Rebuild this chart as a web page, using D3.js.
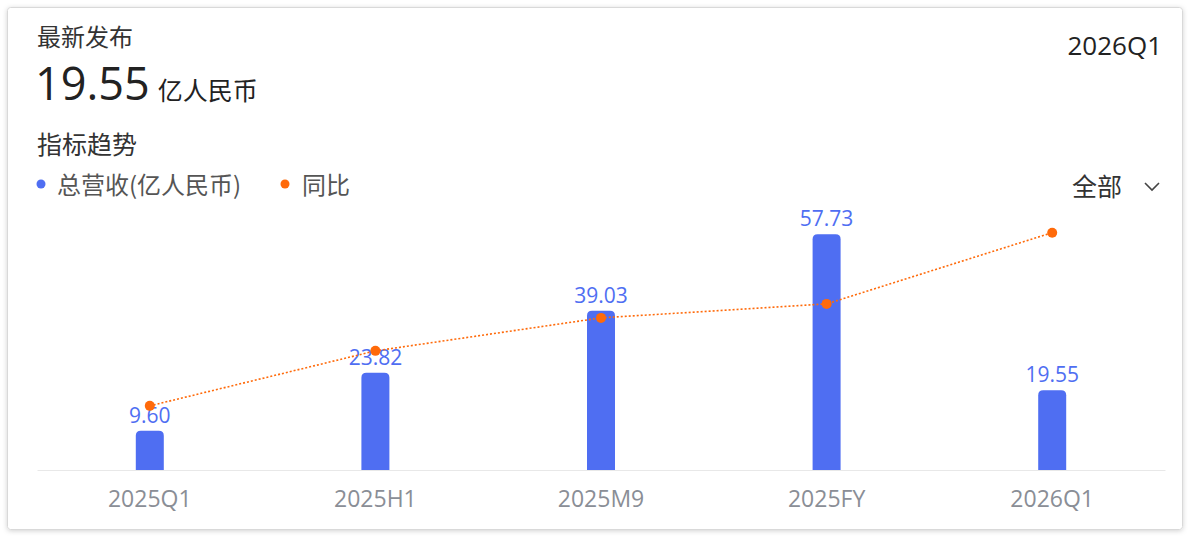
<!DOCTYPE html>
<meta charset="utf-8">
<script src="https://d3js.org/d3.v7.min.js"></script>
<style>
  body { margin: 0; background: #fff; font-family: 'Noto Sans CJK SC', 'Noto Sans', sans-serif; }
</style>
<div id="chart"></div>
<script>

var periods = ["2025Q1", "2025H1", "2025M9", "2025FY", "2026Q1"];
var revenue = [9.60, 23.82, 39.03, 57.73, 19.55];
var yoy = [28.0, 52.0, 66.4, 72.5, 103.6];

var W = 1200, H = 536;
var blue = "#4f6ef2", orange = "#ff6a0a";

var svg = d3.select("#chart").append("svg")
  .attr("width", W).attr("height", H);

var defs = svg.append("defs");
var f = defs.append("filter").attr("id", "sh").attr("x", "-5%").attr("y", "-5%").attr("width", "110%").attr("height", "110%");
f.append("feDropShadow").attr("dx", 0).attr("dy", 1).attr("stdDeviation", 2.5).attr("flood-color", "#000").attr("flood-opacity", 0.18);

// card
svg.append("rect")
  .attr("x", 7.5).attr("y", 7.5).attr("width", 1175).attr("height", 522)
  .attr("rx", 3)
  .attr("fill", "#fff").attr("stroke", "#d9d9d9")
  .attr("filter", "url(#sh)");

// header
svg.append("text").attr("x", 37).attr("y", 46).attr("font-size", 24).attr("fill", "#333").text("最新发布");
var big = svg.append("text").attr("x", 35).attr("y", 100).attr("fill", "#222");
big.append("tspan").attr("font-size", 45).attr("font-family", "'Open Sans', sans-serif").text(revenue[revenue.length - 1].toFixed(2));
big.append("tspan").attr("font-size", 25).attr("dx", 8).text("亿人民币");
svg.append("text").attr("x", 1162).attr("y", 55).attr("text-anchor", "end").attr("font-size", 26).attr("fill", "#222")
  .attr("font-family", "'Open Sans', sans-serif").text(periods[periods.length - 1]);

svg.append("text").attr("x", 37).attr("y", 154).attr("font-size", 25).attr("fill", "#333").text("指标趋势");

// legend
svg.append("circle").attr("cx", 41).attr("cy", 184).attr("r", 4.5).attr("fill", blue);
svg.append("text").attr("x", 57).attr("y", 194).attr("font-size", 24).attr("fill", "#555").text("总营收(亿人民币)");
svg.append("circle").attr("cx", 285).attr("cy", 184).attr("r", 4.5).attr("fill", orange);
svg.append("text").attr("x", 302).attr("y", 194).attr("font-size", 24).attr("fill", "#555").text("同比");

// dropdown
svg.append("text").attr("x", 1072).attr("y", 196).attr("font-size", 25).attr("fill", "#333").text("全部");
svg.append("path").attr("d", "M1145,183 L1152,190 L1159,183").attr("fill", "none").attr("stroke", "#444").attr("stroke-width", 1.6);

// scales
var x = d3.scaleBand().domain(periods).range([37, 1165]);
var y = d3.scaleLinear().domain([0, 60]).range([470, 225]);
var y2 = d3.scaleLinear().domain([0, 110]).range([470, 218]);

// baseline + x labels
var xAxis = svg.append("g").attr("transform", "translate(0,470)")
  .call(d3.axisBottom(x).tickSize(0).tickPadding(21));
xAxis.select(".domain").attr("stroke", "#e8e8e8");
xAxis.selectAll("text").attr("font-size", 23).attr("fill", "#8a8e96")
  .attr("font-family", "'Open Sans', sans-serif");

var bw = 28;
svg.append("g").selectAll("path")
  .data(revenue)
  .join("path")
  .attr("fill", blue)
  .attr("d", function(d, i) {
    var cx = x(periods[i]) + x.bandwidth() / 2;
    var x0 = cx - bw / 2, x1 = cx + bw / 2, top = y(d), b = y(0), r = 5;
    return "M" + x0 + "," + b + "V" + (top + r) + "Q" + x0 + "," + top + " " + (x0 + r) + "," + top +
      "H" + (x1 - r) + "Q" + x1 + "," + top + " " + x1 + "," + (top + r) + "V" + b + "Z";
  });

svg.append("g").selectAll("text")
  .data(revenue)
  .join("text")
  .attr("x", function(d, i) { return x(periods[i]) + x.bandwidth() / 2; })
  .attr("y", function(d) { return y(d) - 8; })
  .attr("text-anchor", "middle")
  .attr("font-size", 21)
  .attr("font-family", "'Open Sans', sans-serif")
  .attr("fill", blue)
  .text(function(d) { return d.toFixed(2); });

// yoy line
var line = d3.line()
  .x(function(d, i) { return x(periods[i]) + x.bandwidth() / 2; })
  .y(function(d) { return y2(d); });
svg.append("path").datum(yoy)
  .attr("d", line)
  .attr("fill", "none")
  .attr("stroke", orange)
  .attr("stroke-width", 1.6)
  .attr("stroke-dasharray", "2,2");

svg.append("g").selectAll("circle")
  .data(yoy)
  .join("circle")
  .attr("cx", function(d, i) { return x(periods[i]) + x.bandwidth() / 2; })
  .attr("cy", function(d) { return y2(d); })
  .attr("r", 5)
  .attr("fill", orange);

</script>
